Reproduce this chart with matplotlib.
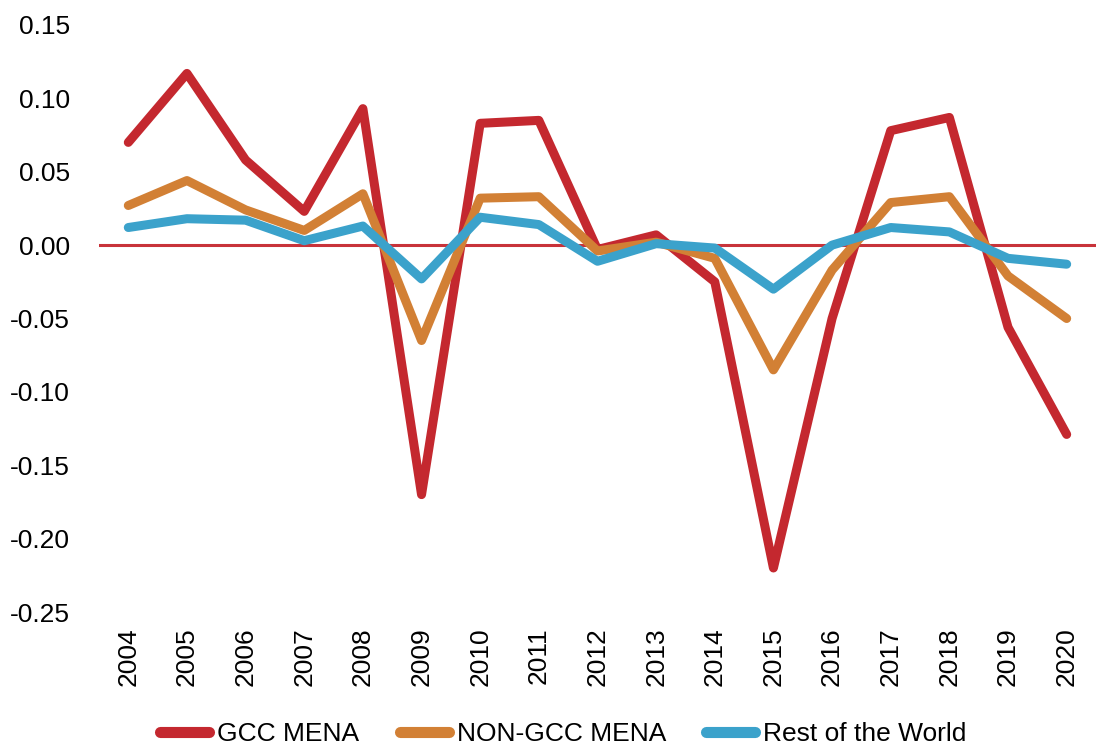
import matplotlib
matplotlib.use("Agg")
import matplotlib.pyplot as plt
import numpy as np

years = [str(y) for y in range(2004, 2021)]
gcc_mena = [0.070, 0.117, 0.058, 0.023, 0.093, -0.170, 0.083, 0.085, -0.003, 0.007,
            -0.025, -0.220, -0.050, 0.078, 0.087, -0.056, -0.129]
non_gcc_mena = [0.027, 0.044, 0.024, 0.010, 0.035, -0.065, 0.032, 0.033, -0.004, 0.002,
                -0.009, -0.085, -0.017, 0.029, 0.033, -0.021, -0.050]
rest_world = [0.012, 0.018, 0.017, 0.003, 0.013, -0.023, 0.019, 0.014, -0.011, 0.001,
              -0.002, -0.030, 0.000, 0.012, 0.009, -0.009, -0.013]
y_ticks = [-0.25, -0.20, -0.15, -0.10, -0.05, 0.00, 0.05, 0.10, 0.15]

plt.rcParams['font.family'] = ['Liberation Sans', 'DejaVu Sans']
fs = 19

fig = plt.figure(figsize=(10.96, 7.46), dpi=100)
ax = fig.add_axes([0.0903, 0.1796, 0.9097, 0.7869])

x = np.arange(len(years))
ax.axhline(0, color='#C8333A', linewidth=2.2, zorder=1)
lw = 6.5
for vals, col, lab, z in [(gcc_mena, '#C4282F', 'GCC MENA', 2),
                          (non_gcc_mena, '#D28035', 'NON-GCC MENA', 3),
                          (rest_world, '#3BA2CB', 'Rest of the World', 4)]:
    ax.plot(x, vals, color=col, linewidth=lw, label=lab, solid_capstyle='round',
            solid_joinstyle='round', zorder=z)

ax.set_xlim(-0.5, len(years) - 0.5)
ax.set_ylim(-0.25, 0.15)
ax.set_yticks(y_ticks)
ax.set_yticklabels([f"{v:.2f}" for v in y_ticks], fontsize=fs)
ax.set_xticks(x)
ax.set_xticklabels(years, rotation=90, fontsize=fs)
ax.tick_params(length=0)
ax.tick_params(axis='x', pad=11)
ax.tick_params(axis='y', pad=21)
for s in ax.spines.values():
    s.set_visible(False)

em = fs * 100 / 72.0
leg = fig.legend(loc='lower center', bbox_to_anchor=(0.514, -0.032), ncol=3, frameon=False,
                 prop={'size': fs},
                 handlelength=49 / em, handletextpad=8 / em,
                 columnspacing=40 / em)
for h in leg.get_lines():
    h.set_linewidth(8)
    h.set_solid_capstyle('round')

fig.savefig('out.png', dpi=100)
